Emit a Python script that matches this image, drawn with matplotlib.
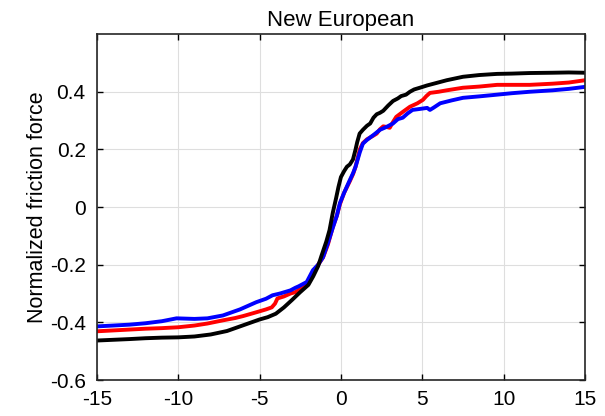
import matplotlib.pyplot as plt
import numpy as np

plt.rcParams['font.family'] = ['Liberation Sans', 'DejaVu Sans']

# slip values and normalized friction force
x_black = [-15, -13, -12, -11, -10, -9, -8, -7, -6, -5, -4.5, -4, -3.5, -3, -2.5, -2, -1.7, -1.4, -1.2, -0.9,
           -0.7, -0.5, -0.3, -0.15, 0, 0.2, 0.37, 0.55, 0.74, 0.9, 1.0, 1.15, 1.35, 1.6, 1.8, 2.0, 2.2, 2.4, 2.6,
           2.9, 3.2, 3.5, 3.7, 4.0, 4.24, 4.5, 4.85, 5.3, 5.9, 6.5, 7.5, 8.5, 9.6, 10.5, 11.6, 13, 14, 15]
y_black = [-0.463, -0.458, -0.455, -0.453, -0.452, -0.449, -0.442, -0.43, -0.41, -0.39, -0.382, -0.37,
           -0.348, -0.322, -0.295, -0.27, -0.24, -0.205, -0.17, -0.12, -0.08, -0.02, 0.03, 0.07, 0.104, 0.125,
           0.14, 0.148, 0.165, 0.2, 0.225, 0.255, 0.268, 0.282, 0.29, 0.31, 0.322, 0.327, 0.334, 0.352, 0.368,
           0.377, 0.385, 0.39, 0.40, 0.408, 0.414, 0.422, 0.431, 0.44, 0.452, 0.458, 0.462, 0.463, 0.465,
           0.466, 0.467, 0.466]

x_red = [-15, -13, -12, -11, -10, -9, -8.2, -7.25, -6.5, -6, -5.2, -4.6, -4.25, -4.05, -3.9, -3.5, -3.1,
         -2.8, -2.5, -2.1, -1.7, -1.4, -1.1, -0.8, -0.5, -0.25, -0.06, 0.2, 0.55, 0.75, 0.9, 1.16, 1.35, 1.6,
         2.0, 2.2, 2.4, 2.6, 2.8, 3.0, 3.2, 3.4, 3.8, 4.24, 4.7, 5.04, 5.25, 5.47, 6.0, 6.5, 7.5, 8.5, 9.6, 10.5,
         11.6, 13, 14, 15]
y_red = [-0.431, -0.425, -0.422, -0.42, -0.417, -0.411, -0.404, -0.393, -0.385, -0.378, -0.365, -0.355,
         -0.348, -0.335, -0.317, -0.31, -0.30, -0.295, -0.285, -0.265, -0.225, -0.2, -0.175, -0.13, -0.07,
         -0.03, 0.01, 0.05, 0.09, 0.115, 0.14, 0.20, 0.222, 0.235, 0.248, 0.255, 0.27, 0.28, 0.278, 0.275,
         0.295, 0.313, 0.33, 0.348, 0.36, 0.372, 0.385, 0.396, 0.4, 0.405, 0.414, 0.418, 0.424, 0.424, 0.424,
         0.428, 0.432, 0.44]

x_blue = [-15, -13, -12, -11, -10.1, -9, -8.2, -7.25, -6.7, -6.2, -5.2, -4.6, -4.2, -3.75, -3.1, -2.8, -2.6,
          -2.1, -1.72, -1.4, -1.1, -0.8, -0.49, -0.25, -0.06, 0.2, 0.55, 0.75, 0.9, 1.16, 1.35, 1.6, 2.0, 2.4,
          2.8, 3.2, 3.5, 3.8, 4.1, 4.4, 4.8, 5.3, 5.47, 5.7, 6.1, 6.8, 7.5, 8.5, 9.6, 10.5, 11.6, 13, 14, 15]
y_blue = [-0.414, -0.408, -0.403, -0.396, -0.386, -0.388, -0.386, -0.376, -0.365, -0.355, -0.33, -0.318,
          -0.306, -0.30, -0.289, -0.28, -0.275, -0.26, -0.219, -0.2, -0.174, -0.125, -0.07, -0.03, 0.014,
          0.05, 0.094, 0.118, 0.14, 0.19, 0.22, 0.233, 0.25, 0.268, 0.278, 0.29, 0.305, 0.31, 0.325, 0.337,
          0.34, 0.344, 0.337, 0.345, 0.36, 0.37, 0.379, 0.384, 0.39, 0.395, 0.40, 0.405, 0.41, 0.417]

fig = plt.figure(figsize=(6.05, 4.16), dpi=100)
ax = fig.add_axes([0.160, 0.0865, 0.807, 0.8315])

ax.plot(x_red, y_red, color='#ff0000', linewidth=2.8)
ax.plot(x_blue, y_blue, color='#0000ff', linewidth=2.8)
ax.plot(x_black, y_black, color='black', linewidth=2.8)

ax.set_xlim(-15, 15)
ax.set_ylim(-0.6, 0.6)
ax.set_xticks(np.arange(-15, 16, 5))
ax.set_yticks([-0.6, -0.4, -0.2, 0, 0.2, 0.4])
ax.set_yticklabels(['-0.6', '-0.4', '-0.2', '0', '0.2', '0.4'])
ax.set_xticklabels(['-15', '-10', '-5', '0', '5', '10', '15'])
ax.grid(True, color='#dedede', linewidth=0.8)
ax.set_axisbelow(True)
ax.tick_params(direction='in', top=True, right=True, labelsize=15, length=4, width=1, pad=7)
ax.tick_params(axis='y', pad=8)
for s in ax.spines.values():
    s.set_linewidth(1.2)
    s.set_color('#262626')

ax.set_title('New European', fontsize=16, pad=6)
ax.set_ylabel('Normalized friction force', fontsize=15.5, labelpad=1)

fig.savefig('out.png', dpi=100)
